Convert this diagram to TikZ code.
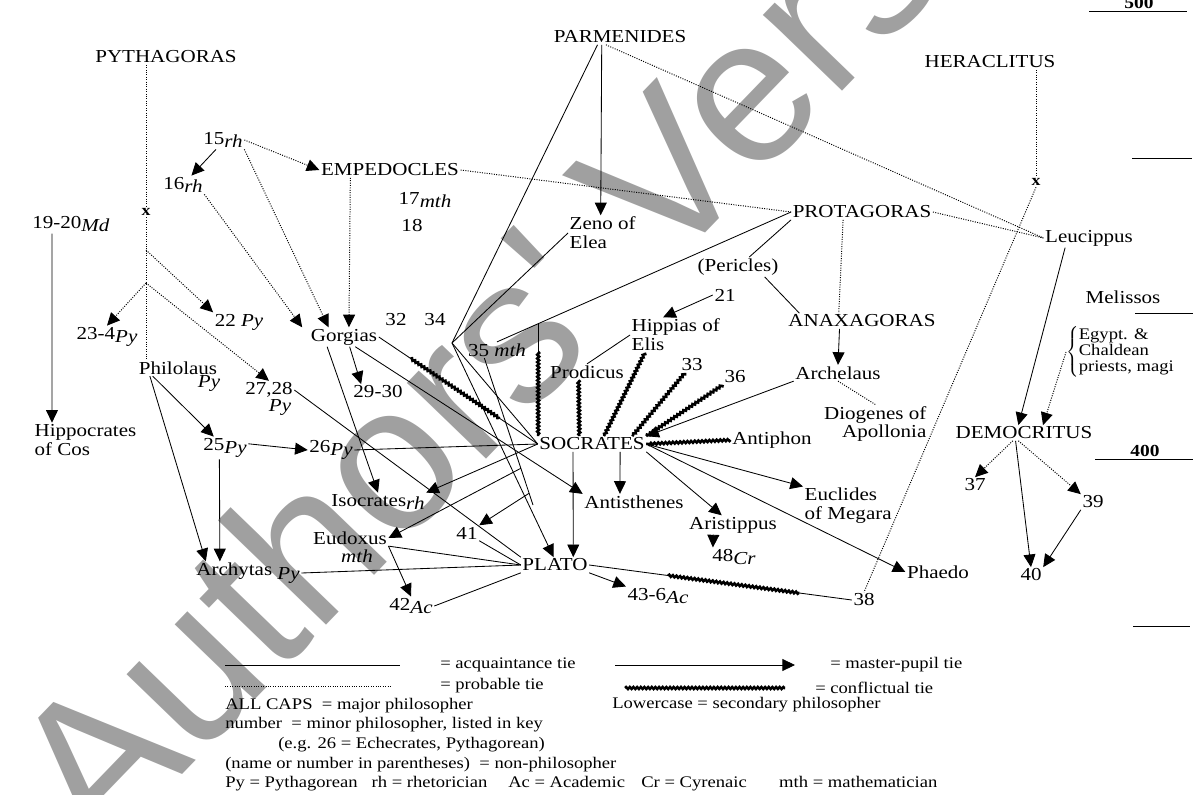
\documentclass[tikz,border=0pt]{standalone}
\usepackage{fontspec}
\setmainfont{Liberation Serif}[FakeStretch=1.15]
\newfontfamily\wmfont{Liberation Sans}
\usetikzlibrary{arrows.meta,decorations.pathmorphing,calc}

\definecolor{wmgray}{RGB}{160,160,160}
\newcommand{\low}[1]{\raisebox{-0.4ex}{\textit{#1}}}

\tikzset{
  person/.style={inner sep=1pt, font=\fontsize{13}{13}\selectfont},
  duo/.style={person, font=\fontsize{13}{13.5}\selectfont},
  xmark/.style={inner sep=1pt, font=\fontsize{11}{11}\selectfont\bfseries},
  era/.style={inner sep=1pt, font=\fontsize{12}{12}\selectfont\bfseries},
  tie/.style={line width=0.6pt},
  pupil/.style={tie, -{Triangle[length=9pt,width=8.5pt]}},
  probable/.style={line width=0.7pt, densely dotted},
  conflict/.style={line width=1.8pt, decorate,
    decoration={snake, amplitude=0.7pt, segment length=2.6pt}},
  keytext/.style={inner sep=0pt, anchor=west, font=\fontsize{11.5}{12}\selectfont},
  wmark/.style={inner sep=0pt, text=wmgray, font=\wmfont\fontsize{147.5}{147.5}\selectfont}
}

\begin{document}
\begin{tikzpicture}[x=0.025cm, y=-0.025cm]
\useasboundingbox (0,0) rectangle (1200,794);

% watermark, behind the drawing
\node[wmark, rotate=46, anchor=base west] (wm) at (100,860) {Authors' Version};

% major philosophers and the rest
\node[person] (pyth) at (166,57) {PYTHAGORAS};
\node[person] (parm) at (620,37) {PARMENIDES};
\node[person] (hera) at (990,62) {HERACLITUS};
\node[person] (n15) at (223,140) {15\low{rh}};
\node[person] (n16) at (183,185) {16\low{rh}};
\node[person] (emp) at (390,170) {EMPEDOCLES};
\node[person] (n17) at (425,200) {17\low{mth}};
\node[person] (n18) at (412,226) {18};
\node[person] (n19) at (71,224) {19-20\low{Md}};
\node[xmark] (xpy) at (146,212) {x};
\node[xmark] (xhe) at (1036,182) {x};
\node[duo, anchor=west, align=left] (zeno) at (568,233) {Zeno of\\Elea};
\node[person] (prot) at (862,212) {PROTAGORAS};
\node[person] (leuc) at (1089,238) {Leucippus};
\node[person] (peri) at (738,267) {(Pericles)};
\node[person] (n21) at (725,295) {21};
\node[person] (anax) at (862,321) {ANAXAGORAS};
\node[duo, anchor=west, align=left] (hipp) at (630,335) {Hippias of\\Elis};
\node[person] (mel) at (1123,297) {Melissos};
\node[person] (n23) at (107,337) {23-4\low{Py}};
\node[person] (n22) at (239,322) {22 \textit{Py}};
\node[person] (gorg) at (344,337) {Gorgias};
\node[person] (n32) at (396,320) {32};
\node[person] (n34) at (435,320) {34};
\node[person] (n35) at (497,350) {35 \textit{mth}};
\node[person] (phil) at (178,368) {Philolaus};
\node[person] (phpy) at (209,383) {\textit{Py}};
\node[person] (n27) at (269,390) {27,28};
\node[person] (n27py) at (280,407) {\textit{Py}};
\node[person] (n29) at (378,392) {29-30};
\node[person] (prod) at (587,372) {Prodicus};
\node[person] (n33) at (692,365) {33};
\node[person] (n36) at (735,377) {36};
\node[person] (arch) at (838,373) {Archelaus};
\node[inner sep=0pt, anchor=west, font=\fontsize{11.5}{11.5}\selectfont] (egypt) at (1066,352)
  {$\left\{\begin{tabular}{@{}l@{}}Egypt. \&\\Chaldean\\priests, magi\end{tabular}\right.$};
\node[duo, anchor=west, align=left] (hippoc) at (33,440) {Hippocrates\\of Cos};
\node[person] (n25) at (225,448) {25\low{Py}};
\node[person] (n26) at (331,450) {26\low{Py}};
\node[person] (soc) at (592,444) {SOCRATES};
\node[person] (antiph) at (772,440) {Antiphon};
\node[duo, anchor=east, align=right] (dio) at (928,424) {Diogenes of\\Apollonia};
\node[person] (dem) at (1024,433) {DEMOCRITUS};
\node[person] (iso) at (378,502) {Isocrates\low{rh}};
\node[person] (anti) at (634,502) {Antisthenes};
\node[duo, anchor=west, align=left] (eucl) at (803,506) {Euclides\\of Megara};
\node[person] (n37) at (975,485) {37};
\node[person] (n39) at (1093,502) {39};
\node[person] (eud) at (350,538) {Eudoxus};
\node[person] (eudm) at (357,556) {\textit{mth}};
\node[person] (n41) at (467,533) {41};
\node[person] (arist) at (733,525) {Aristippus};
\node[person] (n48) at (734,557) {48\low{Cr}};
\node[person] (plato) at (555,565) {PLATO};
\node[person] (archy) at (248,573) {Archytas \low{Py}};
\node[person] (phaedo) at (938,572) {Phaedo};
\node[person] (n40) at (1031,575) {40};
\node[person] (n42) at (411,606) {42\low{Ac}};
\node[person] (n43) at (658,596) {43-6\low{Ac}};
\node[person] (n38) at (864,600) {38};

% time scale
\node[era] (e500) at (1139,3) {500};
\node[era] (e400) at (1145,451) {400};
\draw[tie] (1089,11) -- (1187,11);
\draw[tie] (1132,158) -- (1192,158);
\draw[tie] (1135,313) -- (1193,313);
\draw[tie] (1095,459) -- (1193,459);
\draw[tie] (1133,626) -- (1190,626);

% junctions
\coordinate (apex) at (452,343);
\coordinate (py1) at (146,250);
\coordinate (py2) at (146,283);
\coordinate (trunk) at (533,505);

% probable ties
\draw[probable] (xpy |- pyth.south) -- (xpy.north);
\draw[probable] (xpy.south) -- (xpy |- phil.north);
\draw[probable, -{Triangle[length=9pt,width=8.5pt]}] (py1) -- (n22.north west);
\draw[probable, -{Triangle[length=9pt,width=8.5pt]}] (py2) -- (n23.north);
\draw[probable, -{Triangle[length=9pt,width=8.5pt]}] (py2) -- (n27.north);
\draw[probable, -{Triangle[length=9pt,width=8.5pt]}] (n15.east) -- (emp.west);
\draw[probable, -{Triangle[length=9pt,width=8.5pt]}] (n15.south east) -- ([xshift=-11pt]gorg.north);
\draw[probable, -{Triangle[length=9pt,width=8.5pt]}] (n16.south east) -- ([xshift=-5pt]gorg.north west);
\draw[probable, -{Triangle[length=9pt,width=8.5pt]}] ([xshift=22pt]emp.south west) -- ([xshift=3.5pt]gorg.north);
\draw[probable] (emp.east) -- (prot.west);
\draw[probable] ([xshift=-10pt]parm.south) -- (leuc.west);
\draw[probable] (prot.east) -- (leuc.west);
\draw[probable] (xhe |- hera.south) -- (xhe.north);
\draw[probable] (xhe.south) -- (n38.north);
\draw[probable] ([xshift=37pt]prot.south west) -- ([xshift=37pt]anax.north west);
\draw[probable] (arch.south) -- (dio.north);
\draw[probable, -{Triangle[length=9pt,width=8.5pt]}] (egypt.west) -- ([xshift=13.5pt]dem.north);
\draw[probable, -{Triangle[length=9pt,width=8.5pt]}] ([xshift=-8pt]dem.south) -- (n37.north);
\draw[probable, -{Triangle[length=9pt,width=8.5pt]}] ([xshift=-4pt]dem.south) -- (n39.north west);

% acquaintance ties
\draw[tie] ([xshift=-16pt]parm.south) -- (apex);
\draw[tie] (zeno.west) -- (apex);
\draw[tie] (apex) -- (soc.west);
\draw[tie] (prot.west) -- coordinate[pos=0.86] (cps) (n35.north);
\draw[tie] (prod.north) -- (hipp.west);
\draw[tie] (n26.east) -- (soc.west);
\draw[tie] (n27.east) -- (plato.north west);
\draw[tie] ([xshift=8pt]peri.north) -- (prot.south west);
\draw[tie] ([xshift=19pt]peri.south) -- ([xshift=9pt]anax.north west);
\draw[tie] (plato.west) -- (eud.south east);
\draw[tie] (plato.west) -- (archy.east);
\draw[tie] (plato.west) -- (n41.south east);
\draw[tie] (plato.south west) -- (n42.east);
\draw[tie] (gorg.east) -- (soc.west);
\draw[tie] (cps) -- (cps |- soc.north);
\draw[tie] (plato.east) -- (n38.west);

% master-pupil ties
\draw[pupil] ([xshift=-5pt]n15.south) -- ([xshift=6pt]n16.north);
\draw[pupil] ([xshift=-13.5pt]n19.south) -- ([xshift=13.5pt]hippoc.north west);
\draw[pupil] ([xshift=-13pt]parm.south) -- ([xshift=-1.4pt]zeno.north);
\draw[pupil] ([xshift=-18pt]phil.south) -- ([xshift=-8pt]n25.north);
\draw[pupil] ([xshift=-20pt]phil.south) -- ([xshift=-30pt]archy.north);
\draw[pupil] ([xshift=-4pt]n25.south) -- ([xshift=-20pt]archy.north);
\draw[pupil] ([yshift=3pt]n25.east) -- (n26.west);
\draw[pupil] ([xshift=4pt]gorg.south) -- ([xshift=-12pt]n29.north);
\draw[pupil] ([xshift=-12pt]gorg.south) -- (iso.north);
\draw[pupil] ([xshift=8pt]gorg.south) -- (anti.north west);
\draw[pupil] (n21.west) -- ([xshift=-9pt]hipp.north);
\draw[pupil] ([xshift=-16pt]anax.south) -- (arch.north);
\draw[pupil] ([xshift=-17pt]leuc.south) -- ([xshift=-4pt]dem.north);
\draw[pupil] ([xshift=-6pt]dem.south) -- (n40.north);
\draw[pupil] (n39.south west) -- (n40.north east);
\draw[pupil] (arch.south west) -- (soc.north east);
\draw[pupil] ([xshift=20pt]soc.south) -- ([xshift=-10pt]anti.north);
\draw[pupil] (soc.south east) -- ([xshift=-8pt]arist.north);
\draw[pupil] ([xshift=-14pt]arist.south) -- ([xshift=-15pt]n48.north);
\draw[pupil] (soc.east) -- (eucl.north west);
\draw[pupil] (soc.east) -- (phaedo.west);
\draw[pupil] ([xshift=-13.5pt]soc.south) -- ([xshift=13pt]plato.north);
\draw[pupil] (apex) -- ([xshift=-1pt]plato.north);
\draw[pupil] (soc.west) -- (iso.north east);
\draw[tie] ([xshift=-9pt]n35.south) -- coordinate[pos=0.75] (br1) coordinate[pos=0.92] (br2) (trunk);
\draw[pupil] (br1) -- (eud.east);
\draw[pupil] (br2) -- (n41.north east);
\draw[pupil] (eud.south east) -- (n42.north);
\draw[pupil] (plato.south east) -- (n43.north west);

% conflictual ties
\draw[conflict] ($(gorg.east)!0.2!(soc.west)$) -- ($(gorg.east)!0.76!(soc.west)$);
\draw[conflict] ($(plato.east)!0.3!(n38.west)$) -- ($(plato.east)!0.8!(n38.west)$);
\draw[conflict] ($(cps)!0.25!(cps |- soc.north)$) -- (cps |- soc.north);
\draw[conflict] ([xshift=-6pt]prod.south) -- ([xshift=-9pt]soc.north);
\draw[conflict] ([xshift=-22pt]hipp.south) -- ([xshift=8.5pt]soc.north);
\draw[conflict] ([xshift=-5pt]n33.south) -- ([xshift=-10pt]soc.north east);
\draw[conflict] (n36.south west) -- (soc.north east);
\draw[conflict] (antiph.west) -- (soc.east);

% key
\coordinate (k1a) at (225,665); \coordinate (k1b) at (400,665);
\draw[tie] (k1a) -- (k1b);
\node[keytext] (k1) at (440,665) {= acquaintance tie};
\coordinate (k2a) at (615,665); \coordinate (k2b) at (795,665);
\draw[pupil] (k2a) -- (k2b);
\node[keytext] (k2) at (830,665) {= master-pupil tie};
\coordinate (k3a) at (225,686); \coordinate (k3b) at (390,686);
\draw[probable] (k3a) -- (k3b);
\node[keytext] (k3) at (440,686) {= probable tie};
\coordinate (k4a) at (625,688); \coordinate (k4b) at (785,688);
\draw[conflict] (k4a) -- (k4b);
\node[keytext] (k4) at (815,688) {= conflictual tie};
\node[keytext] (k5) at (225,706) {ALL CAPS\ \ = major philosopher};
\node[keytext] (k6) at (612,705) {Lowercase = secondary philosopher};
\node[keytext] (k7) at (225,725) {number\ \ = minor philosopher, listed in key};
\node[keytext] (k8) at (278,745) {(e.g. 26 = Echecrates, Pythagorean)};
\node[keytext] (k9) at (225,765) {(name or number in parentheses)\ \ = non-philosopher};
\node[keytext] (k10) at (225,784) {Py = Pythagorean\ \ \ rh = rhetorician\quad\ Ac = Academic\quad Cr = Cyrenaic\qquad mth = mathematician};
\end{tikzpicture}
\end{document}
